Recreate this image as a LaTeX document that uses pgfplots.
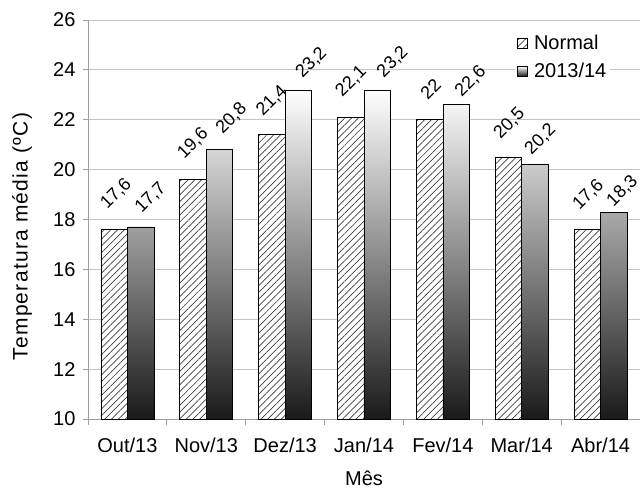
\documentclass[border=0pt]{standalone}
\usepackage{fontspec}
\setmainfont{Liberation Sans}
\usepackage{pgfplots}
\pgfplotsset{compat=1.18}
\usetikzlibrary{patterns.meta}
\definecolor{gridgray}{HTML}{C4C4C4}
\definecolor{axisgray}{HTML}{A0A0A0}
\definecolor{hatch}{HTML}{404040}
\begin{document}
\begin{tikzpicture}[x=1pt,y=1pt]
\useasboundingbox (0,0) rectangle (640,490);
\begin{axis}[
  at={(88pt,71pt)}, anchor=south west,
  scale only axis, width=552pt, height=399pt,
  xmin=-0.5, xmax=6.5, ymin=10, ymax=26,
  ytick={10,12,...,26},
  xtick={0,...,6},
  xticklabels={Out/13,Nov/13,Dez/13,Jan/14,Fev/14,Mar/14,Abr/14},
  minor xtick={-0.5,0.5,...,6.5},
  axis x line*=bottom, axis y line*=left,
  axis line style={axisgray, line width=0.8pt, -},
  tick align=outside,
  major tick length=5pt, minor tick length=6pt,
  major x tick style={draw=none},
  minor x tick style={axisgray, line width=0.8pt},
  major y tick style={axisgray, line width=0.8pt},
  ymajorgrids, grid style={gridgray, line width=0.8pt},
  /pgf/number format/use comma,
  /pgf/number format/1000 sep={},
  /pgf/number format/assume math mode=true,
  tick label style={font=\fontsize{20}{24}\selectfont},
  xticklabel style={yshift=-10pt},
  yticklabel style={xshift=-4pt},
  label style={font=\fontsize{20}{24}\selectfont},
  xlabel={Mês},
  ylabel={Temperatura média (ºC)},
  xlabel style={at={(axis description cs:0.5,-0.1479)}, anchor=center},
  ylabel style={at={(axis description cs:-0.1196,0.457)}, anchor=center,
    font=\fontsize{21}{24}\selectfont\addfontfeature{LetterSpace=6}},
  ybar=0pt, bar width=26.5pt,
  nodes near coords,
  visualization depends on={\thisrow{dx}\as\dx},
  visualization depends on={\thisrow{dy}\as\dy},
  every node near coord/.append style={font=\fontsize{18}{22}\selectfont, black,
    xshift=\dx pt, yshift=\dy pt, rotate=45, anchor=center},
  legend image code/.code={\draw[#1] (0pt,-5pt) rectangle (10pt,5pt);},
  legend style={at={(axis description cs:0.774,0.972)}, anchor=north west,
    draw=none, fill=white, font=\fontsize{20}{24}\selectfont,
    row sep=8pt, inner sep=2pt,
    /tikz/every odd column/.style={column sep=4pt}},
  legend cell align=left,
]
\addplot[draw=black, line width=0.6pt, preaction={fill=white},
  pattern={Lines[angle=45,distance=4.8pt,line width=0.7pt]}, pattern color=hatch]
table[x=x, y=y] {
x y dx dy
0 17.6 2 35.5
1 19.6 0 36
2 21.4 0 34
3 22.1 0.5 35.7
4 22.0 1 31
5 20.5 1 33.6
6 17.6 1 34.5
};
\addlegendentry{Normal}
\addplot[draw=black, line width=0.6pt, top color=white, bottom color=black!90]
table[x=x, y=y] {
x y dx dy
0 17.7 10 29
1 20.8 12 31
2 23.2 13 27
3 23.2 15.5 27.8
4 22.6 14.5 23.3
5 20.2 5.5 25
6 18.3 8.5 21
};
\addlegendentry{2013/14}
\end{axis}
\end{tikzpicture}
\end{document}
